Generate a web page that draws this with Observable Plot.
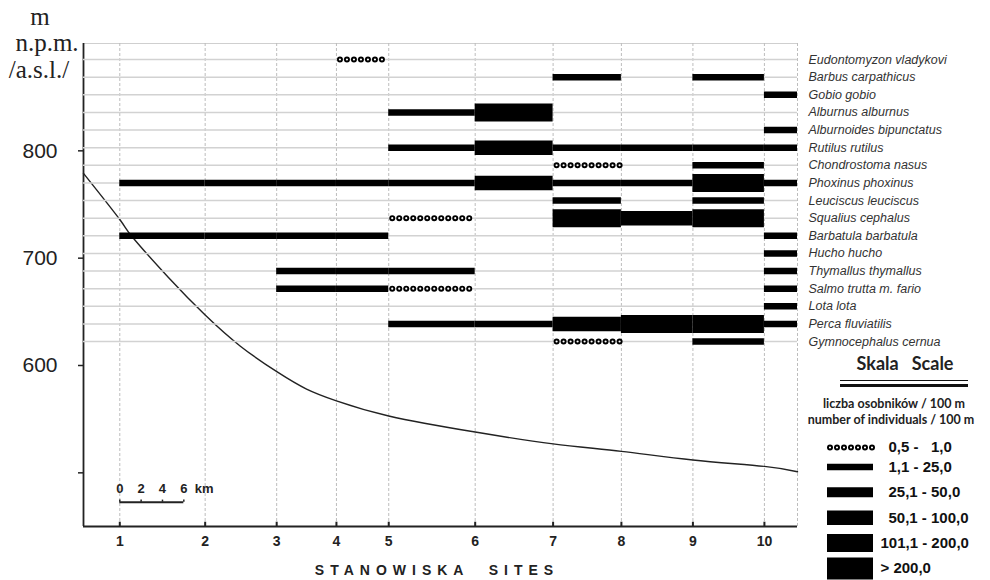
<!DOCTYPE html>
<html><head><meta charset="utf-8">
<script src="https://cdn.jsdelivr.net/npm/d3@7"></script>
<script src="https://cdn.jsdelivr.net/npm/@observablehq/plot@0.6"></script>
<style>
body{margin:0;background:#fff;}
#wrap{position:relative;width:990px;height:580px;overflow:hidden;font-family:"Liberation Sans",Arial,sans-serif;}
#wrap svg{position:absolute;top:0;background:transparent !important;}
.abs{position:absolute;white-space:pre;}
.serif{font-family:"Liberation Serif","Times New Roman",serif;font-size:25px;color:#222;transform:translate(-50%,-50%);}
.lg{font-family:Lato,"Open Sans",sans-serif;font-weight:bold;color:#222;transform:translate(-50%,-50%);}
</style></head><body><div id="wrap"></div>
<script>
// ---- data ----
const species = ["Eudontomyzon vladykovi","Barbus carpathicus","Gobio gobio","Alburnus alburnus",
 "Alburnoides bipunctatus","Rutilus rutilus","Chondrostoma nasus","Phoxinus phoxinus",
 "Leuciscus leuciscus","Squalius cephalus","Barbatula barbatula","Hucho hucho",
 "Thymallus thymallus","Salmo trutta m. fario","Lota lota","Perca fluviatilis","Gymnocephalus cernua"];
const siteNames = ["1","2","3","4","5","6","7","8","9","10"];
const siteKm = [0, 8.0, 14.7, 20.3, 25.2, 33.3, 40.6, 47.0, 53.7, 60.4];
const riverStartKm = -3.4, riverEndKm = 63.5;
// abundance class per site (0 = absent, 1 = 0,5-1,0 ... 6 = >200,0)
const abundanceBySpecies = [
 [0,0,0,1,0,0,0,0,0,0],
 [0,0,0,0,0,0,2,0,2,0],
 [0,0,0,0,0,0,0,0,0,2],
 [0,0,0,0,2,5,0,0,0,0],
 [0,0,0,0,0,0,0,0,0,2],
 [0,0,0,0,2,4,2,2,2,2],
 [0,0,0,0,0,0,1,0,2,0],
 [2,2,2,2,2,4,2,2,5,2],
 [0,0,0,0,0,0,2,0,2,0],
 [0,0,0,0,1,0,5,4,5,0],
 [2,2,2,2,0,0,0,0,0,2],
 [0,0,0,0,0,0,0,0,0,2],
 [0,0,2,2,2,0,0,0,0,2],
 [0,0,2,2,1,0,0,0,0,2],
 [0,0,0,0,0,0,0,0,0,2],
 [0,0,0,0,2,2,4,5,5,2],
 [0,0,0,0,0,0,1,0,2,0]
];
const classLabels = ["0,5 - \u20071,0","1,1 - 25,0","25,1 - 50,0","50,1 - 100,0","101,1 - 200,0","> 200,0"];
const profileKm   = [-3.4, 0,   1.16, 4.56, 8.0, 11.3, 14.75, 17.5, 20.3, 25.2, 33.3, 40.6, 47.0, 53.7, 60.4, 63.5];
const profileElev = [779,  736, 720,  682,  647, 618,  594,   578,  567,  553,  538,  527,  520,  512,  506,  501];
const elevTicks = [500, 600, 700, 800];
const scaleBarKm = [0, 2, 4, 6];

// ---- derived ----
const classWidth = {2: 6.5, 3: 10, 4: 14.5, 5: 18, 6: 22};
const records = [];
abundanceBySpecies.forEach((row, i) => row.forEach((c, j) => {
  if (c > 0) records.push({species: species[i], cls: c,
    x1: siteKm[j], x2: j + 1 < siteKm.length ? siteKm[j + 1] : riverEndKm});
}));
const solid = records.filter(d => d.cls > 1);
const dotted = records.filter(d => d.cls === 1);
const profile = profileKm.map((k, i) => ({km: k, elev: profileElev[i]}));
const yDom = [450, 900];

const common = {width: 990, height: 580, marginLeft: 83, marginRight: 193, marginTop: 43, marginBottom: 54};
const font = "Liberation Sans, Arial, sans-serif";

const base = Plot.plot({
  ...common,
  style: {background: "transparent", fontFamily: font, color: "#222"},
  x: {domain: [riverStartKm, riverEndKm]},
  y: {domain: yDom},
  marks: [
    Plot.ruleY([yDom[1]], {stroke: "#cfcfcf", strokeWidth: 1.2}),
    Plot.ruleX([...siteKm, riverEndKm], {stroke: "#bdbdbd", strokeWidth: 1, strokeDasharray: "3 2"}),
    Plot.line(profile, {x: "km", y: "elev", curve: "natural", stroke: "#222", strokeWidth: 1.4}),
    Plot.ruleY([yDom[0]], {stroke: "#222", strokeWidth: 2}),
    Plot.ruleX([riverStartKm], {stroke: "#222", strokeWidth: 1.8}),
    Plot.ruleX(siteKm, {y1: yDom[0], y2: yDom[0] + 4, stroke: "#222", strokeWidth: 2}),
    Plot.ruleY([472.6], {x1: scaleBarKm[0], x2: scaleBarKm[scaleBarKm.length - 1], stroke: "#222", strokeWidth: 2}),
    Plot.ruleX(scaleBarKm, {y1: 472.6, y2: 474.6, stroke: "#222", strokeWidth: 1.5}),
    Plot.text(scaleBarKm, {x: d => d, y: 485.2, text: d => String(d), fontSize: 13, fontWeight: "bold", fill: "#222"}),
    Plot.text(["km"], {x: scaleBarKm[scaleBarKm.length - 1], y: 485.2, dx: 11, textAnchor: "start", text: d => d, fontSize: 13, fontWeight: "bold", fill: "#222"}),
    Plot.axisY({ticks: elevTicks, tickFormat: d => d === 500 ? "" : String(d), tickSize: 5, tickPadding: 21, fontSize: 21, label: null, strokeWidth: 1.5}),
    Plot.axisX({ticks: siteKm, tickFormat: d => siteNames[siteKm.indexOf(d)], tickSize: 0, tickPadding: 10, fontSize: 14, fontWeight: "bold", label: null})
  ]
});

const overlay = Plot.plot({
  ...common,
  style: {background: "transparent", fontFamily: font},
  x: {domain: [riverStartKm, riverEndKm], axis: null},
  y: {type: "point", domain: species, range: [59, 341], padding: 0, round: false},
  marks: [
    Plot.ruleY(species, {y: d => d, x1: riverStartKm, x2: riverEndKm, stroke: "#d2d2d2", strokeWidth: 1.5}),
    Plot.ruleY(solid, {y: "species", x1: "x1", x2: "x2", stroke: "#000", strokeWidth: d => classWidth[d.cls]}),
    Plot.ruleY(dotted, {y: "species", x1: "x1", x2: "x2", stroke: "#000", strokeWidth: 6, strokeDasharray: "0 7", strokeDashoffset: -4, strokeLinecap: "round"}),
    Plot.ruleY(dotted, {y: "species", x1: "x1", x2: "x2", stroke: "#fff", strokeWidth: 2.2, strokeDasharray: "0 7", strokeDashoffset: -4, strokeLinecap: "round"}),
    Plot.axisY({anchor: "right", tickSize: 0, tickPadding: 11, fontSize: 12.5, fontStyle: "italic", fill: "#333", label: null})
  ]
});

const legendRows = classLabels.map((label, i) => ({cls: i + 1, label}));
const legend = Plot.plot({
  width: 170, height: 580, margin: 0,
  style: {background: "transparent", fontFamily: font},
  x: {domain: [0, 1], range: [7, 53], axis: null},
  y: {type: "point", domain: legendRows.map(d => d.cls), range: [441, 568], padding: 0, round: false, axis: null},
  marks: [
    Plot.ruleY(legendRows.filter(d => d.cls > 1), {y: "cls", x1: 0, x2: 1, stroke: "#000", strokeWidth: d => classWidth[d.cls]}),
    Plot.ruleY(legendRows.filter(d => d.cls === 1), {y: "cls", x1: 0, x2: 1, dy: 6, stroke: "#000", strokeWidth: 6, strokeDasharray: "0 7", strokeDashoffset: -3, strokeLinecap: "round"}),
    Plot.ruleY(legendRows.filter(d => d.cls === 1), {y: "cls", x1: 0, x2: 1, dy: 6, stroke: "#fff", strokeWidth: 2.2, strokeDasharray: "0 7", strokeDashoffset: -3, strokeLinecap: "round"}),
    Plot.text(legendRows.filter(d => d.cls === 1), {y: "cls", x: 1, dy: 6, dx: 15, text: "label", textAnchor: "start", fontSize: 15, fontWeight: "bold", fill: "#111"}),
    Plot.text(legendRows.filter(d => d.cls > 1 && d.cls < 5), {y: "cls", x: 1, dx: 15, text: "label", textAnchor: "start", fontSize: 15, fontWeight: "bold", fill: "#111"}),
    Plot.text(legendRows.filter(d => d.cls >= 5), {y: "cls", x: 1, dx: 7, text: "label", textAnchor: "start", fontSize: 15, fontWeight: "bold", fill: "#111"})
  ]
});

const wrap = document.getElementById("wrap");
base.style.left = "0px"; overlay.style.left = "0px"; legend.style.left = "820px";
wrap.append(base, overlay, legend);

function addText(txt, cls, x, y, size) {
  const d = document.createElement("div");
  d.className = "abs " + cls;
  d.textContent = txt;
  d.style.left = x + "px"; d.style.top = y + "px";
  if (size) d.style.fontSize = size + "px";
  wrap.append(d);
}
addText("m", "serif", 40, 17);
addText("n.p.m.", "serif", 47, 43);
addText("/a.s.l./", "serif", 39, 70);
addText("Skala   Scale", "lg", 905, 363, 18);
addText("liczba osobników / 100 m", "lg", 894, 403, 12.5);
addText("number of individuals / 100 m", "lg", 891, 419, 12.5);
const l1 = document.createElement("div");
l1.className = "abs"; l1.style.cssText += "left:840px;top:379.5px;width:128px;height:1.5px;background:#111;";
const l2 = document.createElement("div");
l2.className = "abs"; l2.style.cssText += "left:840px;top:384px;width:128px;height:3px;background:#111;";
wrap.append(l1, l2);
const st = document.createElement("div");
st.className = "abs";
st.textContent = "STANOWISKA  SITES";
st.style.cssText += "left:437px;top:570px;transform:translate(-50%,-50%);font-weight:bold;font-size:14px;letter-spacing:6px;color:#222;";
wrap.append(st);
</script></body></html>
